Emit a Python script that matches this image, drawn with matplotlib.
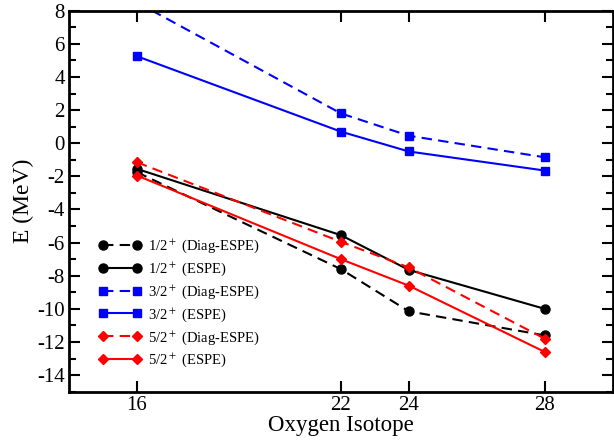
import matplotlib
matplotlib.use("Agg")
import matplotlib.pyplot as plt
from matplotlib.ticker import MultipleLocator

plt.rcParams['font.family'] = ['Liberation Serif', 'DejaVu Serif']
plt.rcParams['mathtext.fontset'] = 'stix'
plt.rcParams['axes.unicode_minus'] = False

isotopes = [16, 22, 24, 28]
half_diag = [-1.75, -7.6, -10.15, -11.6]
half_espe = [-1.55, -5.55, -7.65, -10.0]
three_diag = [8.5, 1.8, 0.45, -0.85]
three_espe = [5.25, 0.7, -0.5, -1.65]
five_diag = [-1.15, -5.95, -7.5, -11.8]
five_espe = [-1.95, -7.0, -8.6, -12.6]

fig = plt.figure(figsize=(6.14, 4.45), dpi=100)
ax = fig.add_axes([0.1124, 0.1198, 0.8855, 0.8562])

dash = (0, (5, 3))
ax.plot(isotopes, half_diag, color='black', ls=dash, lw=1.5, marker='o', ms=6.5,
        label=r'1/2$^+$ (Diag-ESPE)')
ax.plot(isotopes, half_espe, color='black', ls='-', lw=1.5, marker='o', ms=6.5,
        label=r'1/2$^+$ (ESPE)')
ax.plot(isotopes, three_diag, color='#0000ff', ls=dash, lw=1.5, marker='s', ms=6,
        label=r'3/2$^+$ (Diag-ESPE)')
ax.plot(isotopes, three_espe, color='#0000ff', ls='-', lw=1.5, marker='s', ms=6,
        label=r'3/2$^+$ (ESPE)')
ax.plot(isotopes, five_diag, color='#ff0000', ls=dash, lw=1.5, marker='D', ms=5.5,
        label=r'5/2$^+$ (Diag-ESPE)')
ax.plot(isotopes, five_espe, color='#ff0000', ls='-', lw=1.5, marker='D', ms=5.5,
        label=r'5/2$^+$ (ESPE)')

ax.set_xlim(14, 30)
ax.set_ylim(-15, 8)
ax.set_xticks(isotopes)
ax.set_yticks(range(-14, 9, 2))
ax.yaxis.set_minor_locator(MultipleLocator(1))

ax.tick_params(axis='both', which='major', direction='in', length=8, width=1.5,
               labelsize=15, top=True, right=True, pad=3)
ax.tick_params(axis='y', which='minor', direction='in', length=5, width=1.5,
               right=True)
for s in ax.spines.values():
    s.set_linewidth(2)

ax.set_xlabel('Oxygen Isotope', fontsize=16.5, labelpad=0)
ax.set_ylabel('E (MeV)', fontsize=17, labelpad=2)

ax.legend(loc='upper left', bbox_to_anchor=(0.044, 0.42), frameon=False,
          fontsize=10.5, numpoints=2, handlelength=2.9, handletextpad=0.5,
          labelspacing=0.36, borderaxespad=0)

fig.savefig('out.png', dpi=100)
